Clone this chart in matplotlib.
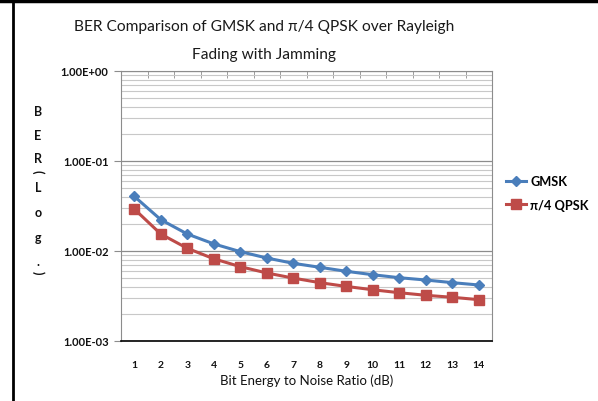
import matplotlib.pyplot as plt
import numpy as np
from matplotlib.lines import Line2D
from matplotlib.ticker import LogLocator, NullFormatter, FixedLocator

# Eb/N0 (dB) categories and BER values
snr_db = [1, 2, 3, 4, 5, 6, 7, 8, 9, 10, 11, 12, 13, 14]
ber_gmsk = [0.0405, 0.0223, 0.01545, 0.0120, 0.00984, 0.00836, 0.0073,
            0.00659, 0.00595, 0.00545, 0.00505, 0.00476, 0.00445, 0.00419]
ber_qpsk = [0.0293, 0.01545, 0.01072, 0.0082, 0.0067, 0.0057, 0.0050,
            0.00445, 0.00404, 0.00371, 0.00344, 0.00322, 0.00306, 0.00288]
y_ticks = [1e-3, 1e-2, 1e-1, 1e0]
y_tick_labels = ['1.00E-03', '1.00E-02', '1.00E-01', '1.00E+00']

plt.rcParams['font.family'] = ['Lato', 'DejaVu Sans']

W, H = 598, 402
fig = plt.figure(figsize=(W / 100, H / 100), dpi=100)
ax = fig.add_axes([121 / W, 1 - 342 / H, (492 - 121) / W, (342 - 72) / H])

ax.plot(snr_db, ber_gmsk, color='#4a7ebb', lw=2.2, marker='D', ms=5,
        label='GMSK')
ax.plot(snr_db, ber_qpsk, color='#be4b48', lw=2.2, marker='s', ms=6.5,
        label='π/4 QPSK')

ax.set_yscale('log')
ax.set_ylim(1e-3, 1)
ax.set_xlim(0.5, 14.5)

# grid: major + minor horizontal lines
ax.yaxis.set_major_locator(FixedLocator(y_ticks))
ax.set_yticklabels(y_tick_labels, fontsize=8, fontweight='bold', color='#111111')
ax.yaxis.set_minor_locator(LogLocator(base=10, subs=np.arange(2, 10)))
ax.yaxis.set_minor_formatter(NullFormatter())
ax.grid(True, which='major', axis='y', color='#8c8c8c', lw=0.9)
ax.grid(True, which='minor', axis='y', color='#c8c8c8', lw=0.8)
ax.tick_params(axis='y', which='minor', length=0)
ax.tick_params(axis='y', which='major', length=5, color='#8c8c8c', pad=4)

# category axis crosses at the top, labels shown low
ax.set_xticks(snr_db)
ax.set_xticklabels([str(v) for v in snr_db], fontsize=7.5, fontweight='bold',
                   color='#111111')
ax.tick_params(axis='x', which='major', length=0, pad=14)
ax.set_xticks(np.arange(1.5, 14.5, 1), minor=True)
ax.tick_params(axis='x', which='minor', top=True, bottom=False, direction='in',
               length=5, color='#8c8c8c')

for side in ['left', 'right', 'top']:
    ax.spines[side].set_color('#8c8c8c')
ax.spines['bottom'].set_color('black')
ax.spines['bottom'].set_linewidth(1.2)

ax.set_xlabel('Bit Energy to Noise Ratio (dB)', fontsize=9.5, labelpad=3,
              color='#111111')

fig.text(0.5 * (77 + 451) / W, 1 - 27 / H,
         'BER Comparison of GMSK and π/4 QPSK over Rayleigh',
         ha='center', va='center', fontsize=11.2, color='#1a1a1a')
fig.text(0.5 * (77 + 451) / W, 1 - 55 / H, 'Fading with Jamming',
         ha='center', va='center', fontsize=11.2, color='#1a1a1a')

# vertical stacked y label "BER(Log.)"
chars = ['B', 'E', 'R', '(', 'L', 'o', 'g', '.', ')']
ys = [112, 136, 159, 172, 188, 213, 238, 262, 273]
for ch, yy in zip(chars, ys):
    rot = -90 if ch in '()' else 0
    fig.text(38 / W, 1 - yy / H, ch, ha='center', va='center', fontsize=9,
             fontweight='bold', rotation=rot, color='#111111')

handles = [Line2D([], [], color='#4a7ebb', lw=2.2, marker='D', ms=5),
           Line2D([], [], color='#be4b48', lw=2.2, marker='s', ms=6.5)]
fig.legend(handles, ['GMSK', 'π/4 QPSK'], loc='center left',
           bbox_to_anchor=(494 / W, 1 - 194 / H), frameon=False,
           handlelength=1.6, handletextpad=0.35, labelspacing=0.9,
           prop={'weight': 'bold', 'size': 9.2})

# frame lines of the picture (top and left)
fig.add_artist(Line2D([0, 1], [1 - 2 / H, 1 - 2 / H], color='black', lw=2.5,
                      transform=fig.transFigure))
fig.add_artist(Line2D([13 / W, 13 / W], [0, 1], color='black', lw=2.0,
                      transform=fig.transFigure))

fig.savefig('out.png', dpi=100)
